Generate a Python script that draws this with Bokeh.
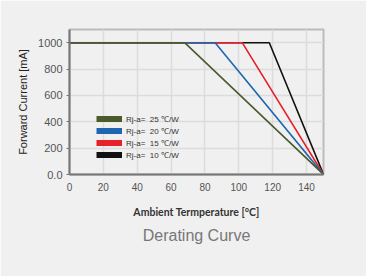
from bokeh.plotting import figure
from bokeh.models import Legend, LegendItem, Title, Range1d, FixedTicker
from bokeh.embed import file_html
from bokeh.resources import INLINE

# data
series_names = ["Rj-a=  25 \u2103/W", "Rj-a=  20 \u2103/W", "Rj-a=  15 \u2103/W", "Rj-a=  10 \u2103/W"]
series_colors = ["#4b5a2b", "#1f66b0", "#e8202a", "#111111"]
temp_start = [0, 0, 0, 0]
temp_knee = [68, 86, 102, 118]
temp_end = [150, 150, 150, 150]
current_max = [1000, 1000, 1000, 1000]
current_end = [0, 0, 0, 0]
x_ticks = [0, 20, 40, 60, 80, 100, 120, 140]
y_ticks = [0, 200, 400, 600, 800, 1000]
y_tick_labels = ["0.0", "200", "400", "600", "800", "1000"]

BG = "#f0f0f0"
p = figure(width=366, height=276, output_backend="svg", toolbar_location=None,
           x_range=Range1d(0, 150), y_range=Range1d(0, 1100),
           min_border_left=69, min_border_right=43, min_border_top=29, min_border_bottom=102)
p.background_fill_color = BG
p.border_fill_color = BG
p.outline_line_color = "#bbbbbb"
p.outline_line_width = 2

for ax in (p.xaxis[0], p.yaxis[0]):
    ax.axis_line_color = "#777777"
    ax.axis_line_width = 2
    ax.major_tick_line_color = "#777777"
    ax.major_tick_in = 0
    ax.minor_tick_line_color = None
    ax.major_label_text_font = "Liberation Sans"
    ax.major_label_text_color = "#555555"
    ax.axis_label_text_color = "#222222"

p.xaxis.major_label_text_font_size = "10px"
p.yaxis.major_label_text_font_size = "11px"
p.xaxis.ticker = FixedTicker(ticks=x_ticks)
p.yaxis.ticker = FixedTicker(ticks=y_ticks)
p.yaxis.major_label_overrides = {t: l for t, l in zip(y_ticks, y_tick_labels)}
p.xaxis.major_tick_out = 0
p.yaxis.major_tick_out = 3
p.xaxis.major_label_standoff = 8
p.yaxis.major_label_standoff = 4

p.xaxis.axis_label = "Ambient Termperature [\u00b0C]"
p.xaxis.axis_label_standoff = 12
p.xaxis.axis_label_text_font = "Lato"
p.xaxis.axis_label_text_font_style = "bold"
p.xaxis.axis_label_text_font_size = "10.5px"
p.xaxis.axis_label_text_color = "#333333"
p.yaxis.axis_label = "Forward Current [mA]"
p.yaxis.axis_label_standoff = 6
p.yaxis.axis_label_text_font = "Liberation Sans"
p.yaxis.axis_label_text_font_style = "normal"
p.yaxis.axis_label_text_font_size = "11px"

p.xgrid.grid_line_color = "#dcdcdc"
p.ygrid.grid_line_color = "#dcdcdc"
p.xgrid.grid_line_width = 1.5
p.ygrid.grid_line_width = 1.5

for i in reversed(range(4)):
    xs = [temp_start[i], temp_knee[i], temp_end[i]]
    ys = [current_max[i], current_max[i], current_end[i]]
    p.line(xs, ys, line_color=series_colors[i], line_width=1.6)

items = []
nan = float("nan")
for i in range(4):
    dummy = p.line(x=[nan], y=[nan], line_color=series_colors[i], line_width=6)
    items.append(LegendItem(label=series_names[i], renderers=[dummy]))

legend = Legend(items=items, location=(27, 14), padding=0, margin=0, spacing=0,
                glyph_width=26, glyph_height=7, label_height=12, label_standoff=4,
                label_text_font="Liberation Sans", label_text_font_size="8px",
                label_text_color="#333333", background_fill_alpha=0,
                border_line_color=None)
p.add_layout(legend, "center")

t = Title(text="Derating Curve", align="center", text_font="Liberation Sans",
          text_font_size="16px", text_font_style="normal", text_color="#777777",
          standoff=8)
p.add_layout(t, "below")

open("out.html", "w").write(file_html(p, INLINE))
